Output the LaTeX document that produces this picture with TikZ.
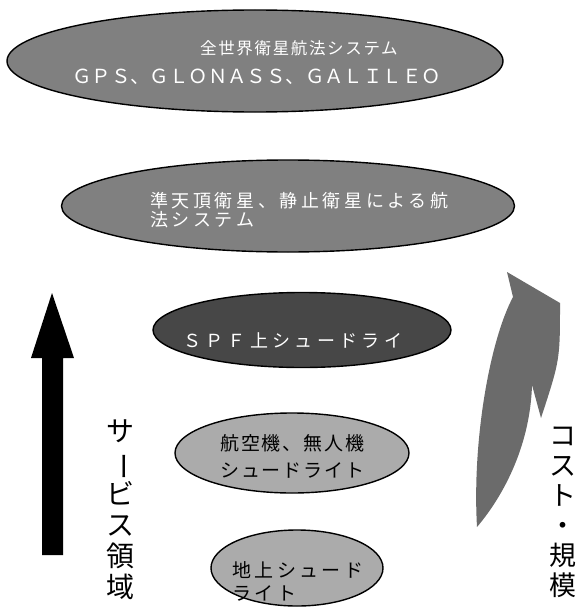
\documentclass[tikz,border=0pt]{standalone}
\usepackage{fontspec}
\usepackage{graphicx}
\newfontfamily\jp{Noto Sans CJK JP}
\usetikzlibrary{shapes.geometric}
\tikzset{
  oval/.style={ellipse, draw=black, line width=1.4pt, inner sep=0pt},
  lbl/.style={anchor=west, inner sep=0pt, font=\jp},
  vtext/.style={align=center, inner sep=0pt, text=black},
}
\newcommand{\fs}[2]{\fontsize{#1}{#1}\selectfont\addfontfeatures{LetterSpace=#2}}
\newcommand{\vbar}{\rotatebox[origin=c]{-90}{ー}}
\begin{document}
\begin{tikzpicture}[x=1pt,y=-1pt]
\useasboundingbox (0,0) rectangle (577,610);
% ellipses
\node[oval, fill=black!50, minimum width=496pt, minimum height=102pt] (e1) at (255,61) {};
\node[oval, fill=black!50, minimum width=453pt, minimum height=92pt] (e2) at (288,206) {};
\node[oval, fill=black!72, minimum width=298pt, minimum height=75pt] (e3) at (302,330) {};
\node[oval, fill=black!33, minimum width=234pt, minimum height=80pt] (e4) at (292,453) {};
\node[oval, fill=black!33, minimum width=172pt, minimum height=76pt] (e5) at (297,568) {};
% texts
\node[lbl, text=white] (t1a) at (200,48) {\fs{16.5}{10}全世界衛星航法システム};
\node[lbl, text=white] (t1b) at (72,77) {\fs{19.4}{0}ＧＰＳ、ＧＬＯＮＡＳＳ、ＧＡＬＩＬＥＯ};
\node[lbl, text=white] (t2a) at (150,201) {\fs{18}{20}準天頂衛星、静止衛星による航};
\node[lbl, text=white] (t2b) at (150,220) {\fs{18}{20}法システム};
\node[lbl, text=white] (t3) at (183,340) {\fs{18}{24}ＳＰＦ上シュードライ};
\node[lbl, text=black] (t4a) at (220,443) {\fs{19}{10}航空機、無人機};
\node[lbl, text=black] (t4b) at (220,470) {\fs{19}{10}シュードライト};
\node[lbl, text=black] (t5a) at (232,570) {\fs{19}{18}地上シュード};
\node[lbl, text=black] (t5b) at (232,593) {\fs{19}{18}ライト};
% left black arrow
\fill[black] (52,293) -- (74,358) -- (63,358) -- (63,555) -- (42,555) -- (42,358) -- (31,358) -- cycle;
% right curved arrow
\fill[black!58] (507,272) -- (560,303) .. controls (560,360) .. (541,418) -- (532,385)
  .. controls (530,450) and (500,500) .. (477,527)
  .. controls (472,440) and (490,340) .. (513,297) -- cycle;
% vertical labels
\node[vtext, font=\jp\fontsize{28}{31}\selectfont] (vl) at (120,510) {サ\\\vbar\\ビ\\ス\\領\\域};
\node[vtext, font=\jp\fontsize{27}{30}\selectfont] (vr) at (563,512) {コ\\ス\\ト\\・\\規\\模};
\end{tikzpicture}
\end{document}
